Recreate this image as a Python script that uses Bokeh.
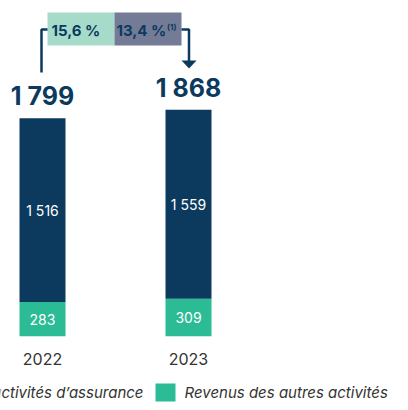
from bokeh.plotting import figure
from bokeh.models import Range1d, ColumnDataSource
from bokeh.core.properties import value
from bokeh.embed import file_html
from bokeh.resources import INLINE

years = ["2022", "2023"]
insurance = [1516, 1559]
other = [283, 309]
totals = [1799, 1868]
pct_labels = ["15,6 %", "13,4 %"]
legend_labels = ["Revenus des activités d’assurance", "Revenus des autres activités"]

NAVY = "#0b3a5e"
GREEN = "#2bbb95"
LIGHTGREEN = "#a7dbc9"
GREY = "#747b97"
FONT = "Inter"

# scale: value units per pixel
PX = 0.12118
BASE = 335.7  # baseline in pixel coords


def vy(py):
    return (BASE - py) / PX


p = figure(width=400, height=402, output_backend="svg", toolbar_location=None,
           x_range=Range1d(0, 400), y_range=Range1d(vy(402), vy(0)), min_border=0)
p.axis.visible = False
p.grid.visible = False
p.outline_line_color = None
p.background_fill_color = "white"

xc = [42, 188]
bw = 46

src = ColumnDataSource(dict(x=xc, ins=insurance, oth=other, tot=totals,
                            mid_ins=[o + i / 2 for o, i in zip(other, insurance)],
                            mid_oth=[o / 2 for o in other],
                            ins_lbl=[f"{v:,}".replace(",", " ") for v in insurance],
                            oth_lbl=[str(v) for v in other],
                            tot_lbl=[f"{v:,}".replace(",", " ") for v in totals],
                            yr=years))

p.vbar(x="x", width=bw, bottom=0, top="oth", source=src, fill_color=GREEN, line_color=None)
p.vbar(x="x", width=bw, bottom="oth", top="tot", source=src, fill_color=NAVY, line_color=None)

p.text(x="x", y="mid_ins", text="ins_lbl", source=src, text_align="center", text_baseline="middle",
       text_color="white", text_font=value(FONT), text_font_size="14px")
p.text(x="x", y="mid_oth", text="oth_lbl", source=src, text_align="center", text_baseline="middle",
       text_color="white", text_font=value(FONT), text_font_size="14px")
p.text(x="x", y="tot", text="tot_lbl", source=src, text_align="center", text_baseline="bottom",
       y_offset=-7, text_color=NAVY, text_font=value(FONT), text_font_size="25px",
       text_font_style="bold")
p.text(x="x", y=vy(358), text="yr", source=src, text_align="center", text_baseline="middle",
       text_color="#333333", text_font=value(FONT), text_font_size="16px")

# percentage boxes
p.quad(left=[47, 114], right=[114, 181], top=[vy(12)] * 2, bottom=[vy(45)] * 2,
       fill_color=[LIGHTGREEN, GREY], line_color=None)
p.text(x=[51, 116], y=[vy(29.5)] * 2, text=pct_labels, text_align="left", text_baseline="middle",
       text_color=NAVY, text_font=value(FONT), text_font_size="15px",
       text_font_style="bold")
p.text(x=[166.5], y=[vy(26)], text=["(1)"], text_align="left", text_baseline="middle",
       text_color=NAVY, text_font=value(FONT), text_font_size="8px", text_font_style="bold")

# bracket and arrow
p.line(x=[41, 41, 47], y=[vy(72), vy(29), vy(29)], line_color=NAVY, line_width=2.5)
p.line(x=[181, 188.5, 188.5], y=[vy(29), vy(29), vy(61)], line_color=NAVY, line_width=2.5)
p.patch(x=[181, 196, 188.5], y=[vy(60), vy(60), vy(68)], fill_color=NAVY, line_color=None)

# legend
p.quad(left=[-40, 155], right=[-20, 175], top=[vy(383)] * 2, bottom=[vy(401)] * 2,
       fill_color=[NAVY, GREEN], line_color=None)
p.text(x=[143, 184], y=[vy(392)] * 2, text=legend_labels, text_align=["right", "left"],
       text_baseline="middle", text_color="#333333", text_font=value(FONT),
       text_font_size="15px", text_font_style="italic")

open("out.html", "w").write(file_html(p, INLINE))
